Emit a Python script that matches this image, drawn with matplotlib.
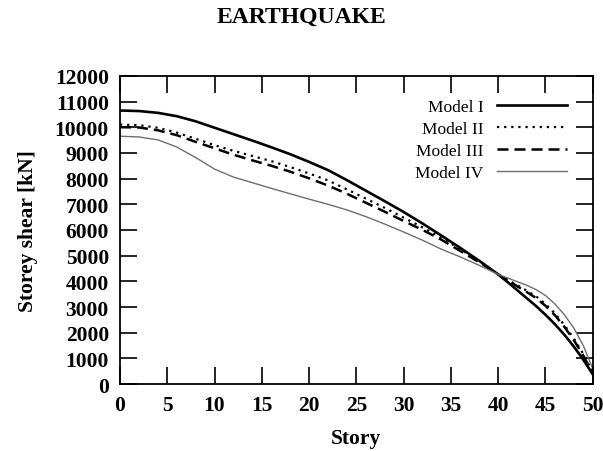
import matplotlib
matplotlib.use("Agg")
import matplotlib.pyplot as plt

stories = [0, 2, 4, 6, 8, 10, 12, 14, 16, 18, 20, 22, 24, 26, 28, 30,
           32, 34, 36, 38, 40, 41, 42, 43, 44, 45, 46, 47, 48, 49, 50]

model_1 = [10650, 10630, 10560, 10430, 10230, 9980, 9730, 9480, 9220, 8950,
           8650, 8330, 7940, 7530, 7120, 6700, 6250, 5780, 5300, 4800,
           4270, 3970, 3660, 3350, 3040, 2700, 2330, 1920, 1460, 950, 380]
model_2 = [10100, 10080, 9980, 9790, 9550, 9300, 9080, 8880, 8680, 8450,
           8200, 7930, 7580, 7220, 6860, 6480, 6100, 5700, 5250, 4780,
           4270, 4060, 3850, 3640, 3420, 3120, 2750, 2300, 1780, 1170, 450]
model_3 = [10000, 9990, 9880, 9690, 9430, 9180, 8930, 8710, 8500, 8270,
           8010, 7730, 7410, 7060, 6710, 6350, 6000, 5620, 5180, 4740,
           4270, 4040, 3810, 3590, 3350, 3050, 2680, 2230, 1710, 1110, 420]
model_4 = [9650, 9620, 9510, 9230, 8820, 8370, 8060, 7840, 7620, 7410,
           7200, 7000, 6780, 6520, 6230, 5920, 5600, 5250, 4950, 4620,
           4270, 4130, 3990, 3850, 3680, 3450, 3120, 2700, 2180, 1500, 600]

labels = ["Model I", "Model II", "Model III", "Model IV"]
x_ticks = [0, 5, 10, 15, 20, 25, 30, 35, 40, 45, 50]
y_ticks = list(range(0, 12001, 1000))

serif = ["Liberation Serif", "DejaVu Serif"]

fig = plt.figure(figsize=(6.03, 4.52), dpi=100)
ax = fig.add_axes([0.199, 0.148, 0.784, 0.682])

ax.plot(stories, model_1, color="black", lw=1.9, label=labels[0])
ax.plot(stories, model_2, color="black", lw=1.6, linestyle=(0, (1, 2.2)), label=labels[1])
ax.plot(stories, model_3, color="black", lw=1.8, linestyle=(0, (4.4, 2.4)), label=labels[2])
ax.plot(stories, model_4, color="#6e6e6e", lw=1.0, label=labels[3])

ax.set_xlim(0, 50)
ax.set_ylim(0, 12000)
ax.set_xticks(x_ticks)
ax.set_yticks(y_ticks)
ax.tick_params(direction="in", length=12, width=1.2, top=True, right=True,
               labelsize=15.5, pad=8)
for lab in ax.get_xticklabels() + ax.get_yticklabels():
    lab.set_family(serif)
    lab.set_fontweight("bold")
for s in ax.spines.values():
    s.set_linewidth(1.3)

ax.set_xlabel("Story", fontsize=15.5, fontweight="bold", family=serif, labelpad=9)
ax.set_ylabel("Storey shear [kN]", fontsize=15.5, fontweight="bold", family=serif, labelpad=12)
fig.text(0.5, 0.962, "EARTHQUAKE", ha="center", va="center", fontsize=17,
         fontweight="bold", family=serif)

leg = ax.legend(loc="upper right", frameon=False, markerfirst=False,
                handlelength=4.0, handletextpad=0.8, labelspacing=0.34,
                borderpad=0, borderaxespad=0,
                prop={"family": serif, "size": 12.5},
                bbox_to_anchor=(0.945, 0.925))

fig.savefig("out.png", dpi=100)
